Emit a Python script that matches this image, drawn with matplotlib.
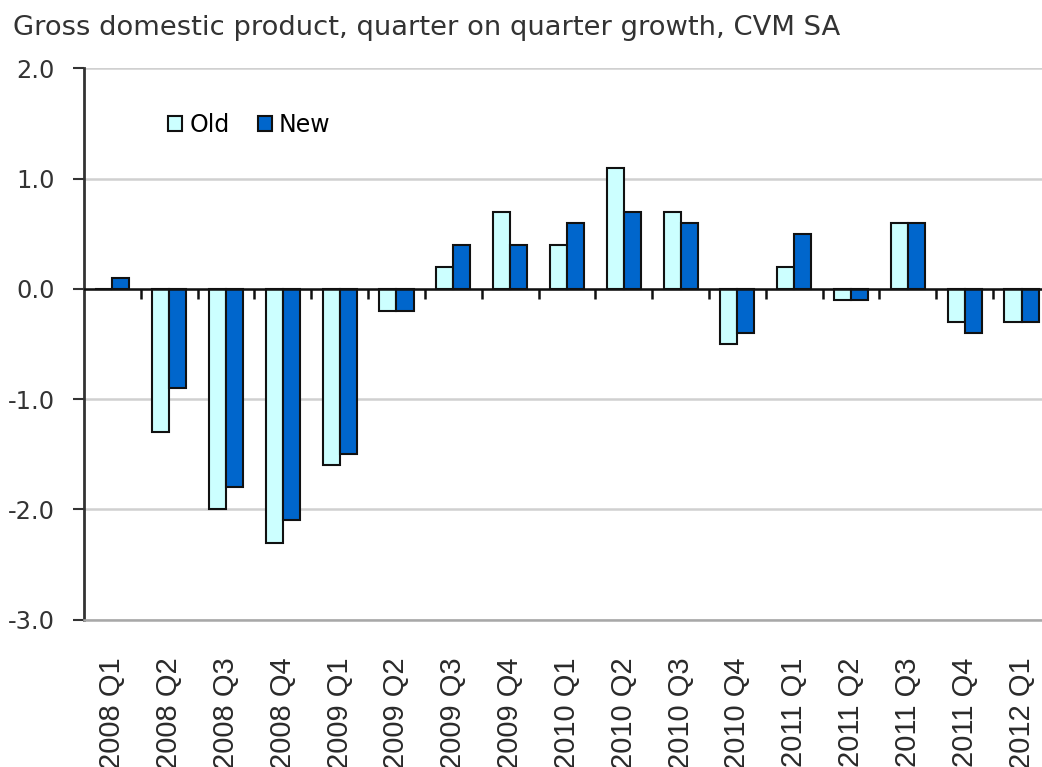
import numpy as np
import matplotlib
matplotlib.use('Agg')
import matplotlib.pyplot as plt
import matplotlib.transforms as mtransforms

plt.rcParams['font.family'] = ['DejaVu Sans']

quarters = ['2008 Q1', '2008 Q2', '2008 Q3', '2008 Q4', '2009 Q1', '2009 Q2',
            '2009 Q3', '2009 Q4', '2010 Q1', '2010 Q2', '2010 Q3', '2010 Q4',
            '2011 Q1', '2011 Q2', '2011 Q3', '2011 Q4', '2012 Q1']
old_vals = [0.0, -1.3, -2.0, -2.3, -1.6, -0.2, 0.2, 0.7, 0.4, 1.1, 0.7, -0.5,
            0.2, -0.1, 0.6, -0.3, -0.3]
new_vals = [0.1, -0.9, -1.8, -2.1, -1.5, -0.2, 0.4, 0.4, 0.6, 0.7, 0.6, -0.4,
            0.5, -0.1, 0.6, -0.4, -0.3]
y_ticks = [2.0, 1.0, 0.0, -1.0, -2.0, -3.0]

fig = plt.figure(figsize=(10.42, 7.67), dpi=100)
# plot area runs a little past the right edge, as in the original
ax = fig.add_axes([0.0806, 0.192, 0.927, 0.719])

x = np.arange(len(quarters))
w = 0.3
ax.bar(x - w / 2, old_vals, w, color='#CCFFFF', edgecolor='#111111', linewidth=1.5,
       label='Old', zorder=3)
ax.bar(x + w / 2, new_vals, w, color='#0066CC', edgecolor='#111111', linewidth=1.5,
       label='New', zorder=3)

ax.set_xlim(-0.5, len(quarters) - 0.5)
ax.set_ylim(-3.0, 2.0)
ax.set_yticks(y_ticks)
ax.set_yticklabels(['%.1f' % v for v in y_ticks])
ax.grid(axis='y', color='#D0D0D0', linewidth=1.8, zorder=0)
ax.set_axisbelow(True)

# zero line with small category separators
ax.axhline(0, color='#111111', linewidth=1.8, zorder=4)
trans = mtransforms.blended_transform_factory(ax.transData, ax.transAxes)
zero_frac = (0 - (-3.0)) / 5.0
ax.vlines(x[:-1] + 0.5, zero_frac - 0.019, zero_frac, transform=trans,
          color='#111111', linewidth=1.8, zorder=4)

ax.set_xticks(x)
ax.set_xticklabels(quarters, rotation=90, fontsize=21,
                   family=['Liberation Sans', 'DejaVu Sans'], color='#2A2A2A')
ax.tick_params(axis='x', length=0, pad=27)
ax.tick_params(axis='y', direction='out', length=8, width=1.5, pad=13,
               labelsize=17.3, colors='#333333')

for side in ['top', 'right']:
    ax.spines[side].set_visible(False)
ax.spines['bottom'].set_color('#A8A8A8')
ax.spines['bottom'].set_linewidth(1.8)
ax.spines['left'].set_color('#333333')
ax.spines['left'].set_linewidth(2.0)

fig.text(0.012, 0.963, 'Gross domestic product, quarter on quarter growth, CVM SA',
         fontsize=19.7, color='#333333', va='center', ha='left')

ax.legend(loc='center left', bbox_to_anchor=(0.087, 0.897), ncol=2, frameon=False,
          fontsize=17, handlelength=0.6, handleheight=0.6, handletextpad=0.3,
          columnspacing=1.2, borderaxespad=0, borderpad=0)

fig.savefig('out.png', dpi=100)
